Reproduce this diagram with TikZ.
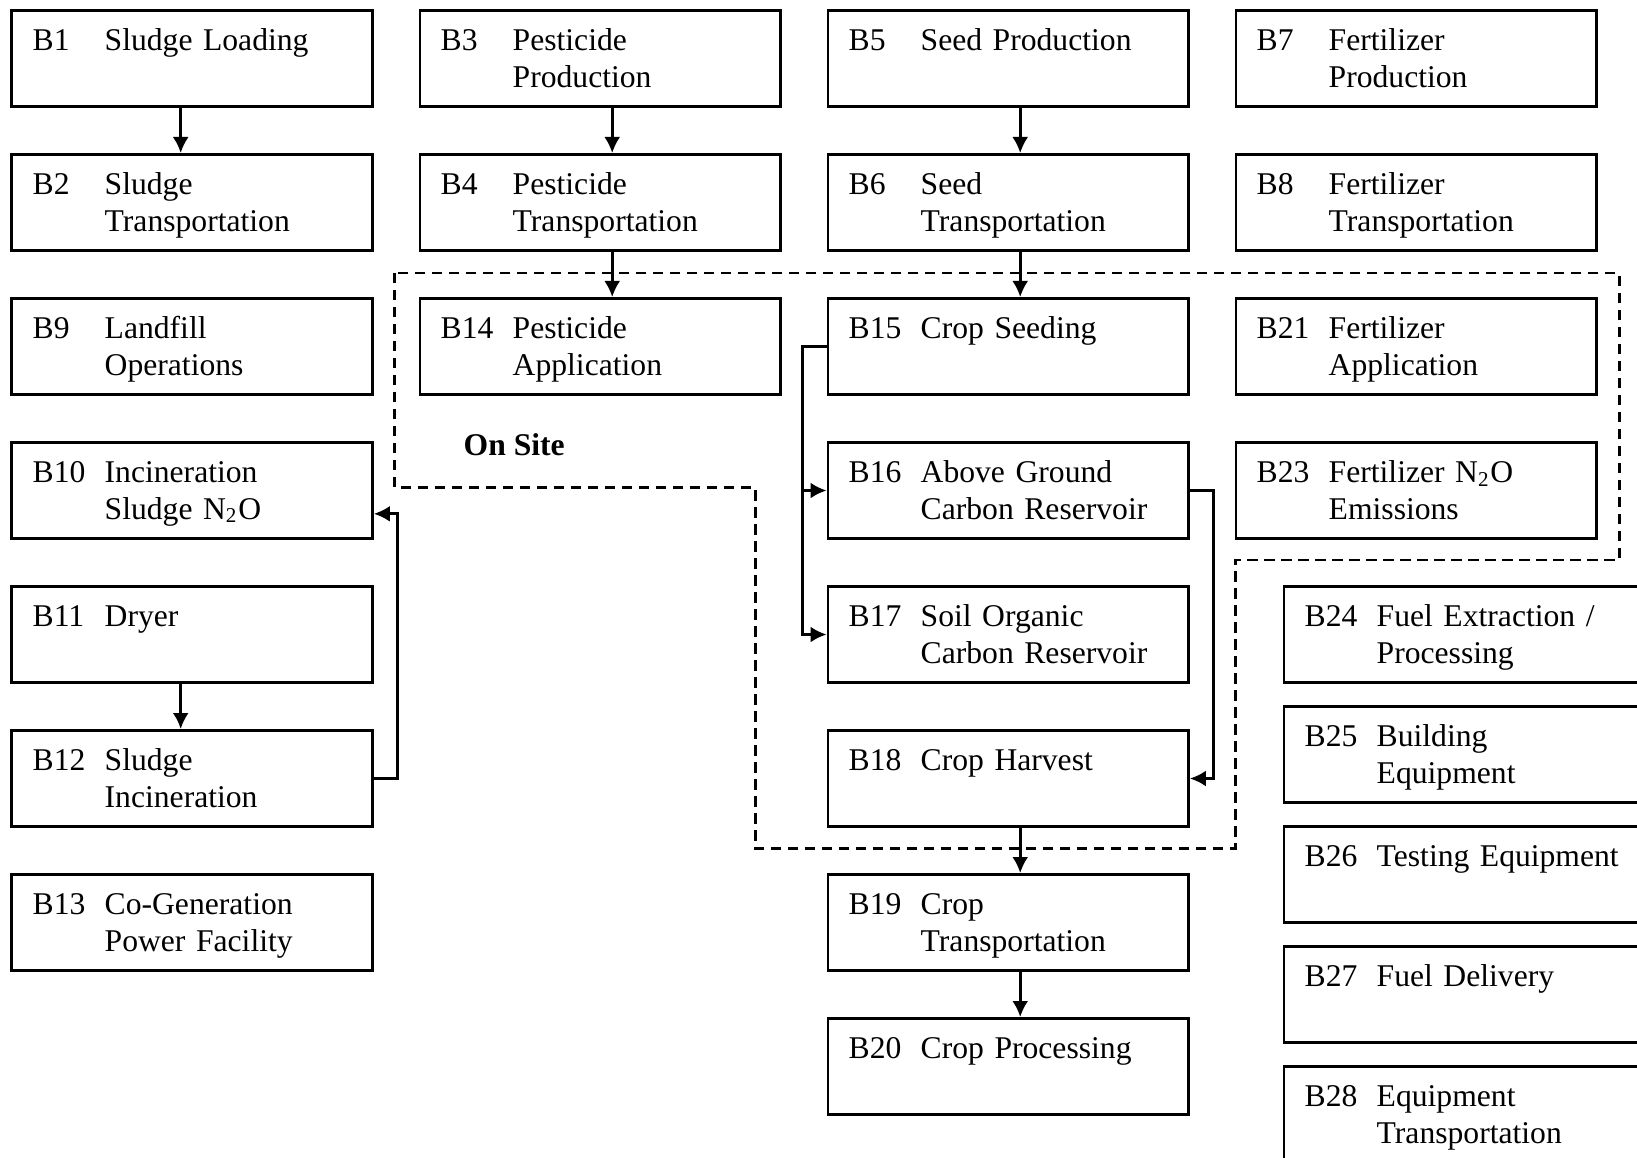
\documentclass[tikz,border=0pt]{standalone}
\usepackage{fontspec}
\setmainfont{Liberation Serif}
\usetikzlibrary{arrows.meta}
\newcommand{\blk}[3]{\begin{tabular}[t]{@{}p{7.2mm}@{}l@{}}#1&#2\\&#3\end{tabular}}
\begin{document}
\begin{tikzpicture}[>={Latex[length=1.6mm,width=1.6mm]},
  box/.style={draw, line width=0.8pt, anchor=north west, inner xsep=2.08mm, inner ysep=0pt,
    text width=31.9mm, align=left, text height=4.04mm, text depth=5.58mm,
    font=\fontsize{9}{10.35}\selectfont},
  link/.style={->, line width=0.75pt},
  site/.style={line width=0.85pt, dash pattern=on 1.05mm off 0.65mm}]
\useasboundingbox[fill=white] (0,0) rectangle (16.37,-11.58);
\clip (0,0) rectangle (16.37,-11.58);
\node[box] (B1) at (0.105,-0.09) {\blk{B1}{Sludge Loading}{}};
\node[box] (B2) at (0.105,-1.53) {\blk{B2}{Sludge}{Transportation}};
\node[box] (B9) at (0.105,-2.97) {\blk{B9}{Landfill}{Operations}};
\node[box] (B10) at (0.105,-4.41) {\blk{B10}{Incineration}{Sludge N\textsubscript{2}O}};
\node[box] (B11) at (0.105,-5.85) {\blk{B11}{Dryer}{}};
\node[box] (B12) at (0.105,-7.29) {\blk{B12}{Sludge}{Incineration}};
\node[box] (B13) at (0.105,-8.73) {\blk{B13}{Co-Generation}{Power Facility}};
\node[box] (B3) at (4.185,-0.09) {\blk{B3}{Pesticide}{Production}};
\node[box] (B4) at (4.185,-1.53) {\blk{B4}{Pesticide}{Transportation}};
\node[box] (B14) at (4.185,-2.97) {\blk{B14}{Pesticide}{Application}};
\node[box] (B5) at (8.265,-0.09) {\blk{B5}{Seed Production}{}};
\node[box] (B6) at (8.265,-1.53) {\blk{B6}{Seed}{Transportation}};
\node[box] (B15) at (8.265,-2.97) {\blk{B15}{Crop Seeding}{}};
\node[box] (B16) at (8.265,-4.41) {\blk{B16}{Above Ground}{Carbon Reservoir}};
\node[box] (B17) at (8.265,-5.85) {\blk{B17}{Soil Organic}{Carbon Reservoir}};
\node[box] (B18) at (8.265,-7.29) {\blk{B18}{Crop Harvest}{}};
\node[box] (B19) at (8.265,-8.73) {\blk{B19}{Crop}{Transportation}};
\node[box] (B20) at (8.265,-10.17) {\blk{B20}{Crop Processing}{}};
\node[box] (B7) at (12.345,-0.09) {\blk{B7}{Fertilizer}{Production}};
\node[box] (B8) at (12.345,-1.53) {\blk{B8}{Fertilizer}{Transportation}};
\node[box] (B21) at (12.345,-2.97) {\blk{B21}{Fertilizer}{Application}};
\node[box] (B23) at (12.345,-4.41) {\blk{B23}{Fertilizer N\textsubscript{2}O}{Emissions}};
\node[box] (B24) at (12.825,-5.85) {\blk{B24}{Fuel Extraction /}{Processing}};
\node[box] (B25) at (12.825,-7.05) {\blk{B25}{Building}{Equipment}};
\node[box] (B26) at (12.825,-8.25) {\blk{B26}{Testing Equipment}{}};
\node[box] (B27) at (12.825,-9.45) {\blk{B27}{Fuel Delivery}{}};
\node[box] (B28) at (12.825,-10.65) {\blk{B28}{Equipment}{Transportation}};
\node[anchor=base west, inner sep=0pt, font=\bfseries\fontsize{9}{10.35}\selectfont] (onsite) at (4.63,-4.56) {On Site};
\draw[site] (3.943,-2.73) -- (3.943,-4.875) -- (7.55,-4.875) -- (7.55,-8.485)
  -- (12.35,-8.485) -- (12.35,-5.6) -- (16.193,-5.6) -- (16.193,-2.73) -- cycle;
\draw[link] ([xshift=-1.15mm]B1.south) -- ([xshift=-1.15mm]B2.north);
\draw[link] ([xshift=-1.15mm]B11.south) -- ([xshift=-1.15mm]B12.north);
\draw[link] ([xshift=1.2mm]B3.south) -- ([xshift=1.2mm]B4.north);
\draw[link] ([xshift=1.2mm]B4.south) -- ([xshift=1.2mm]B14.north);
\draw[link] ([xshift=1.2mm]B5.south) -- ([xshift=1.2mm]B6.north);
\draw[link] ([xshift=1.2mm]B6.south) -- ([xshift=1.2mm]B15.north);
\draw[link] ([xshift=1.2mm]B18.south) -- ([xshift=1.2mm]B19.north);
\draw[link] ([xshift=1.2mm]B19.south) -- ([xshift=1.2mm]B20.north);
\draw[link] (B12.east) -- ++(2.37mm,0) |- ([yshift=-2.33mm]B10.east);
\draw[link] (B15.west) -- ++(-2.4mm,0) |- (B16.west);
\draw[link] (B15.west) -- ++(-2.4mm,0) |- (B17.west);
\draw[link] (B16.east) -- ++(2.37mm,0) |- (B18.east);
\end{tikzpicture}
\end{document}
